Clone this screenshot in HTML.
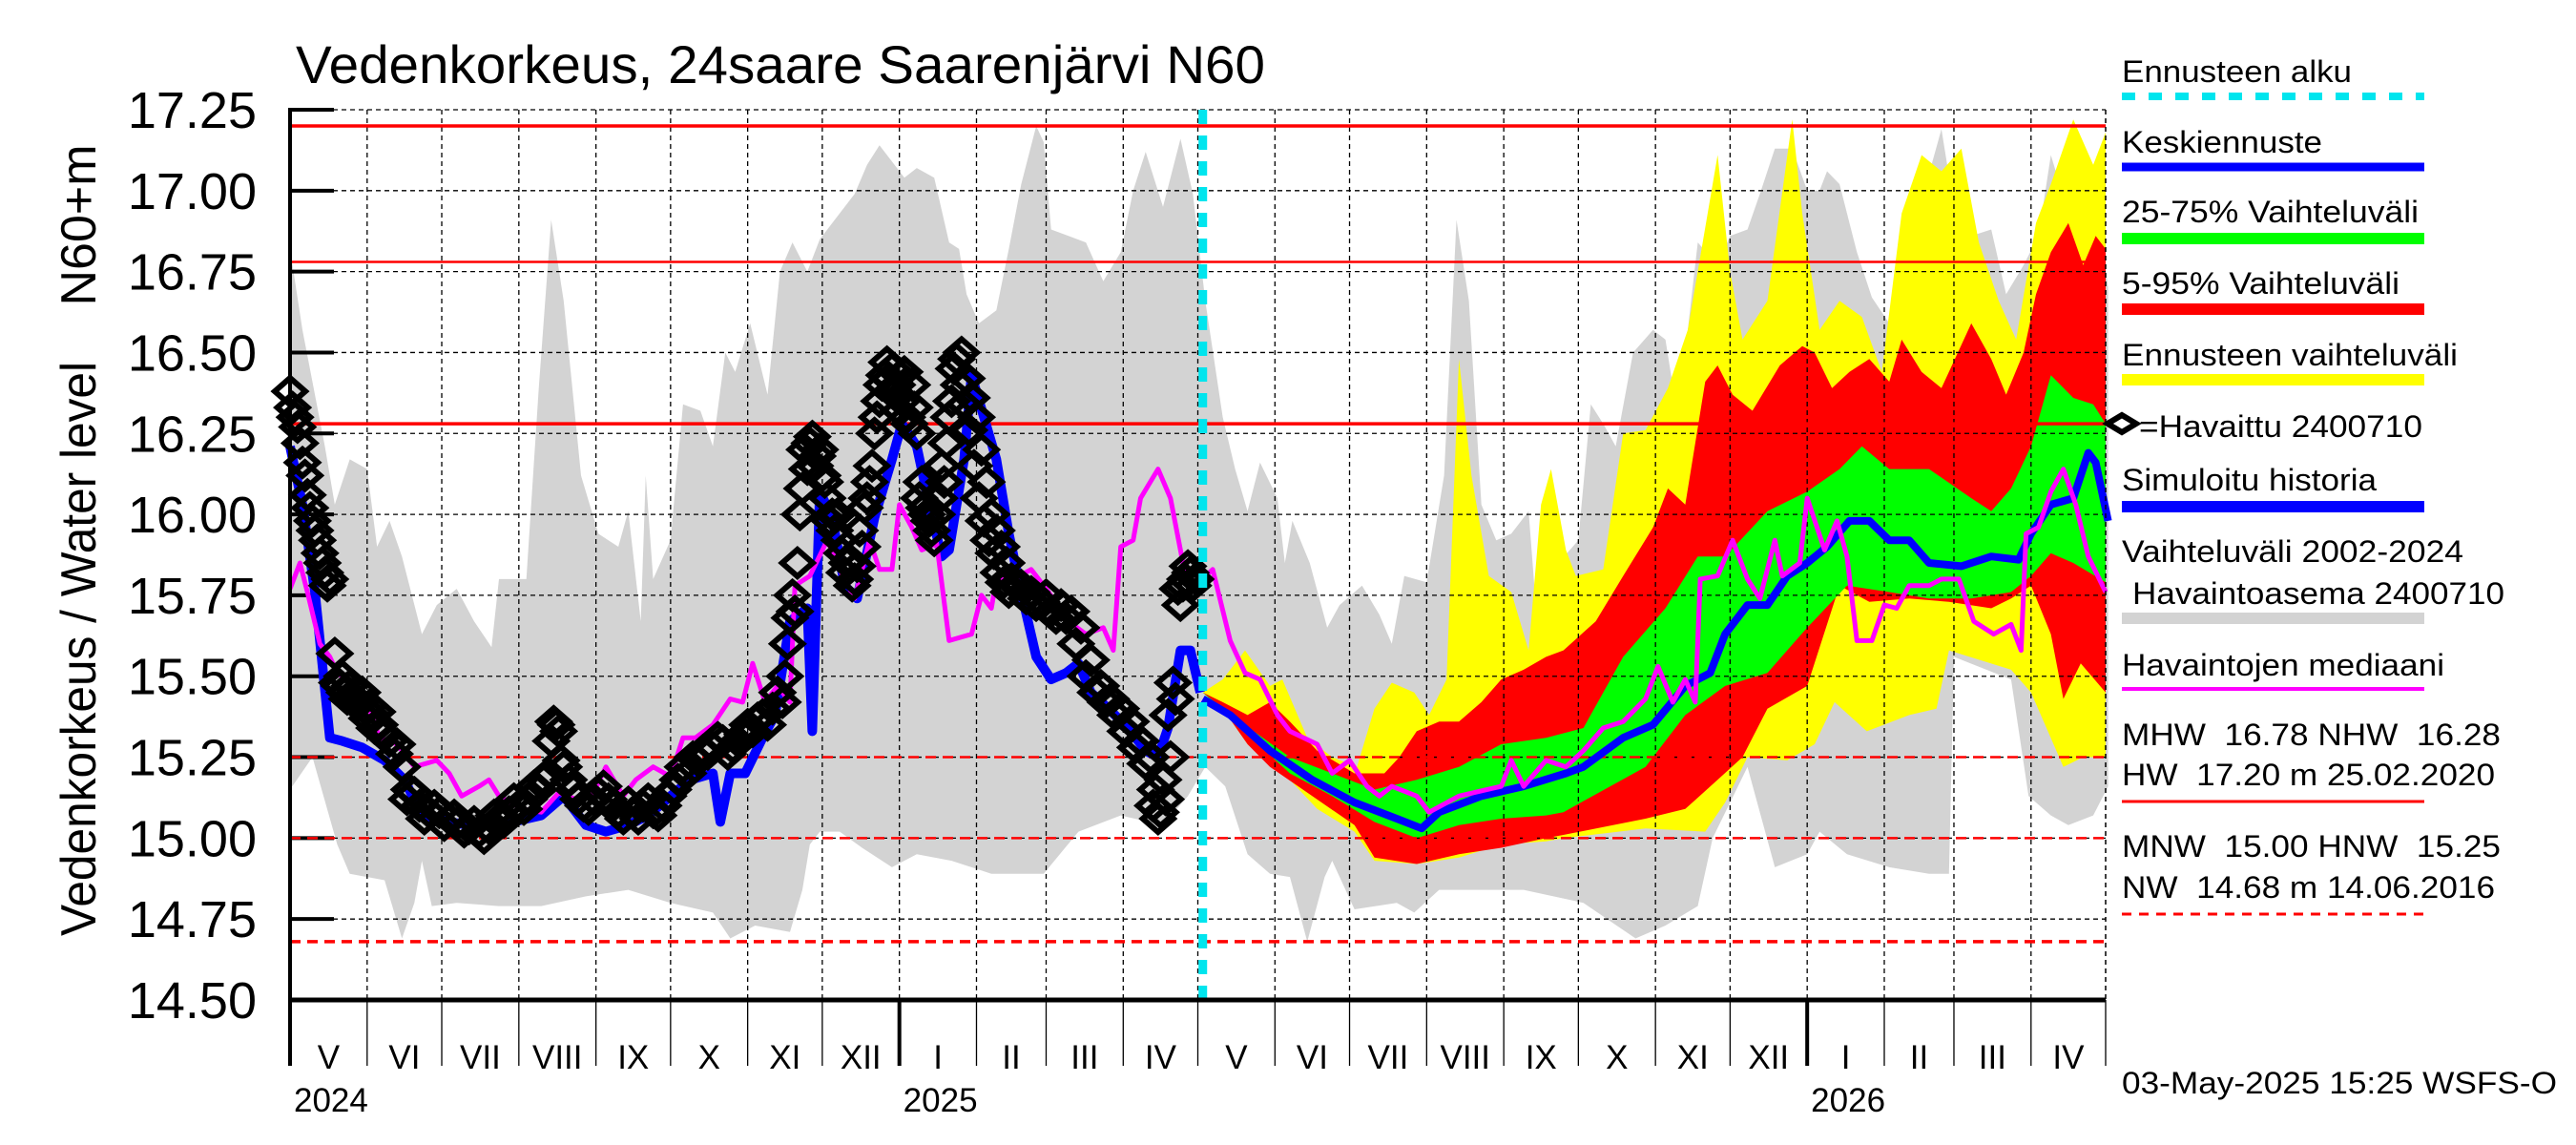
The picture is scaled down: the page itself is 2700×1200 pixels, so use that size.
<!DOCTYPE html>
<html><head><meta charset="utf-8"><title>Vedenkorkeus Saarenjärvi</title>
<style>
html,body{margin:0;padding:0;background:#fff;}
svg{display:block;font-family:"Liberation Sans",sans-serif;}
</style></head>
<body>
<svg id="chart" width="2700" height="1200" viewBox="0 0 2700 1200" xmlns="http://www.w3.org/2000/svg">
<rect x="0" y="0" width="2700" height="1200" fill="#fff"/>
<text x="310" y="87" font-size="56" textLength="1016" lengthAdjust="spacingAndGlyphs">Vedenkorkeus, 24saare Saarenjärvi N60</text>
<text transform="translate(100,236) rotate(-90)" text-anchor="middle" font-size="52">N60+m</text>
<text transform="translate(100,680) rotate(-90)" text-anchor="middle" font-size="52" textLength="602" lengthAdjust="spacingAndGlyphs">Vedenkorkeus / Water level</text>
<g id="plot"></g>
<g id="legend">
  <text x="2224" y="86" font-size="32" textLength="241" lengthAdjust="spacingAndGlyphs">Ennusteen alku</text>
  <line x1="2224" y1="101" x2="2541" y2="101" stroke="#00e5ee" stroke-width="8" stroke-dasharray="14,14"/>
  <text x="2224" y="160" font-size="32" textLength="210" lengthAdjust="spacingAndGlyphs">Keskiennuste</text>
  <line x1="2224" y1="175" x2="2541" y2="175" stroke="#0000ff" stroke-width="9"/>
  <text x="2224" y="233" font-size="32" textLength="311" lengthAdjust="spacingAndGlyphs">25-75% Vaihteluväli</text>
  <line x1="2224" y1="250" x2="2541" y2="250" stroke="#00ff00" stroke-width="12"/>
  <text x="2224" y="308" font-size="32" textLength="291" lengthAdjust="spacingAndGlyphs">5-95% Vaihteluväli</text>
  <line x1="2224" y1="324" x2="2541" y2="324" stroke="#ff0000" stroke-width="12"/>
  <text x="2224" y="383" font-size="32" textLength="352" lengthAdjust="spacingAndGlyphs">Ennusteen vaihteluväli</text>
  <line x1="2224" y1="398" x2="2541" y2="398" stroke="#ffff00" stroke-width="12"/>
  <polygon points="2209,444 2224,435 2239,444 2224,453" fill="none" stroke="#000" stroke-width="6"/>
  <text x="2242" y="458" font-size="32" textLength="297" lengthAdjust="spacingAndGlyphs">=Havaittu 2400710</text>
  <text x="2224" y="514" font-size="32" textLength="267" lengthAdjust="spacingAndGlyphs">Simuloitu historia</text>
  <line x1="2224" y1="531" x2="2541" y2="531" stroke="#0000ff" stroke-width="12"/>
  <text x="2224" y="589" font-size="32" textLength="358" lengthAdjust="spacingAndGlyphs">Vaihteluväli 2002-2024</text>
  <text x="2235" y="633" font-size="32" textLength="390" lengthAdjust="spacingAndGlyphs">Havaintoasema 2400710</text>
  <line x1="2224" y1="648" x2="2541" y2="648" stroke="#d3d3d3" stroke-width="12"/>
  <text x="2224" y="708" font-size="32" textLength="338" lengthAdjust="spacingAndGlyphs">Havaintojen mediaani</text>
  <line x1="2224" y1="722" x2="2541" y2="722" stroke="#ff00ff" stroke-width="4"/>
  <text x="2224" y="781" font-size="32" textLength="397" lengthAdjust="spacingAndGlyphs" xml:space="preserve">MHW  16.78 NHW  16.28</text>
  <text x="2224" y="823" font-size="32" textLength="391" lengthAdjust="spacingAndGlyphs" xml:space="preserve">HW  17.20 m 25.02.2020</text>
  <line x1="2224" y1="840" x2="2541" y2="840" stroke="#ff0000" stroke-width="3"/>
  <text x="2224" y="898" font-size="32" textLength="397" lengthAdjust="spacingAndGlyphs" xml:space="preserve">MNW  15.00 HNW  15.25</text>
  <text x="2224" y="941" font-size="32" textLength="391" lengthAdjust="spacingAndGlyphs" xml:space="preserve">NW  14.68 m 14.06.2016</text>
  <line x1="2224" y1="958" x2="2541" y2="958" stroke="#ff0000" stroke-width="3" stroke-dasharray="10,8"/>
  <text x="2224" y="1146" font-size="32" textLength="456" lengthAdjust="spacingAndGlyphs">03-May-2025 15:25 WSFS-O</text>
</g>
</svg>
<script>
// ---- data (days from 1 May 2024) ----
const histMaxDays = [0,5,14,18,24,31,35,40,45,53,59,67,74,81,84,95,100,105,110,117,124,132,136,141,143,146,153,158,165,170,175,179,185,192,197,202,208,213,221,227,232,237,242,247,252,259,265,269,272,277,284,289,294,300,303,306,313,320,327,334,339,344,351,358,363,368,375,380,385,390,397,400,403,410,417,422,431,438,443,448,457,464,469,474,479,485,491,498,502,510,518,523,528,533,540,548,553,558,566,574,579,586,591,597,604,610,615,618,623,630,636,643,649,656,664,669,676,684,690,697,703,708,715,721,726,731];
const histMax = [16.82,16.57,16.21,16.03,16.17,16.14,15.9,15.98,15.87,15.63,15.72,15.77,15.67,15.59,15.8,15.8,16.39,16.91,16.66,16.12,15.94,15.9,16.01,15.67,16.12,15.8,15.92,16.34,16.32,16.21,16.5,16.44,16.59,16.37,16.75,16.84,16.75,16.85,16.93,16.99,17.08,17.14,17.09,17.04,17.07,17.04,16.84,16.82,16.68,16.59,16.63,16.82,17.02,17.2,17.15,16.88,16.86,16.84,16.72,16.81,17.0,17.12,16.95,17.16,16.99,16.66,16.3,16.14,16.01,16.16,16.05,15.85,15.98,15.85,15.65,15.72,15.78,15.69,15.6,15.81,15.79,16.12,16.91,16.66,16.03,15.92,15.94,16.01,15.61,15.85,15.92,16.34,16.28,16.21,16.5,16.57,16.54,16.3,16.84,16.77,16.86,16.88,16.99,17.13,17.13,17.0,17.0,17.06,17.02,16.81,16.67,16.59,16.63,16.97,17.19,16.95,16.86,16.88,16.68,16.77,16.86,17.11,16.93,17.14,17.0,16.7];
const histMinDays = [0,9,19,24,38,45,50,53,57,67,84,101,119,136,153,170,177,187,201,206,209,213,221,230,242,252,266,282,303,317,334,351,361,368,376,385,394,402,409,416,419,428,445,452,462,479,496,520,541,553,566,572,586,597,610,615,626,643,659,667,669,692,699,708,715,725,731];
const histMin = [15.15,15.25,14.98,14.89,14.87,14.69,14.8,14.93,14.79,14.8,14.79,14.79,14.82,14.84,14.8,14.77,14.69,14.73,14.71,14.84,14.98,15.02,15.02,14.97,14.91,14.95,14.93,14.89,14.89,15.02,15.07,15.04,15.13,15.22,15.16,14.95,14.89,14.88,14.68,14.88,14.93,14.78,14.8,14.77,14.84,14.84,14.84,14.8,14.69,14.73,14.79,15.0,15.22,14.91,14.95,15.02,14.95,14.91,14.89,14.89,15.56,15.49,15.13,15.07,15.04,15.07,15.16];

const yelUpDays = [367,375,384,394,399,409,419,429,436,443,452,458,465,470,475,482,491,498,503,507,513,517,528,536,545,554,562,574,579,584,594,604,608,615,623,632,640,648,656,664,672,679,687,694,702,708,717,725,730];
const yelUp = [15.45,15.49,15.58,15.47,15.49,15.31,15.25,15.22,15.4,15.48,15.45,15.38,15.49,16.48,16.12,15.81,15.76,15.58,16.03,16.14,15.89,15.81,15.83,16.25,16.26,16.39,16.57,17.11,16.75,16.54,16.66,17.22,16.93,16.57,16.66,16.61,16.44,16.93,17.11,17.06,17.13,16.84,16.66,16.54,16.9,17.02,17.22,17.08,17.18];
const yelLoDays = [367,375,385,402,413,428,436,453,470,487,505,512,545,569,577,586,602,613,621,634,651,662,667,692,700,713,721,730];
const yelLo = [15.45,15.4,15.29,15.18,15.09,15.02,14.93,14.92,14.94,14.98,14.99,15.0,15.03,15.02,15.11,15.25,15.24,15.29,15.42,15.33,15.38,15.4,15.58,15.52,15.45,15.22,15.25,15.25];

const redUpDays = [367,375,385,394,402,413,428,440,446,453,462,470,479,487,496,505,512,525,536,548,554,561,569,574,580,588,599,608,613,620,627,635,643,648,656,664,676,684,690,697,702,708,715,721,726,730];
const redUp = [15.45,15.42,15.38,15.42,15.36,15.27,15.2,15.2,15.25,15.33,15.36,15.36,15.42,15.49,15.52,15.56,15.58,15.67,15.81,15.96,16.08,16.03,16.41,16.46,16.37,16.32,16.46,16.52,16.5,16.39,16.44,16.48,16.41,16.54,16.44,16.39,16.59,16.48,16.37,16.5,16.68,16.81,16.9,16.77,16.86,16.82];
const redLoDays = [367,375,385,394,411,428,436,453,470,487,505,512,545,561,574,584,594,610,623,635,651,667,684,692,700,708,713,720,730];
const redLo = [15.45,15.4,15.29,15.22,15.13,15.04,14.94,14.92,14.95,14.97,15.0,15.01,15.06,15.09,15.18,15.25,15.4,15.47,15.78,15.73,15.74,15.73,15.71,15.74,15.78,15.63,15.43,15.54,15.45];

const grnUpDays = [367,382,402,419,436,453,470,487,505,520,536,553,566,577,594,610,623,632,643,659,676,684,692,700,708,717,725,730];
const grnUp = [15.45,15.36,15.25,15.2,15.15,15.18,15.22,15.29,15.31,15.34,15.56,15.71,15.87,15.87,16.01,16.07,16.14,16.21,16.14,16.14,16.05,16.01,16.08,16.21,16.43,16.36,16.34,16.28];
const grnLoDays = [367,382,402,419,436,453,470,487,505,512,545,561,577,594,610,626,643,659,676,692,700,708,717,730];
const grnLo = [15.45,15.34,15.2,15.13,15.05,15.0,15.04,15.06,15.07,15.08,15.22,15.38,15.47,15.51,15.65,15.78,15.76,15.74,15.74,15.76,15.81,15.88,15.85,15.79];

const fcDays = [367,378,394,411,428,445,455,462,479,496,513,520,536,548,561,571,577,586,594,602,610,618,627,635,643,651,659,672,684,695,700,708,717,723,726,731];
const fcMedian = [15.43,15.38,15.27,15.18,15.11,15.06,15.03,15.08,15.13,15.16,15.2,15.22,15.31,15.35,15.47,15.51,15.63,15.72,15.72,15.81,15.85,15.9,15.98,15.98,15.92,15.92,15.85,15.84,15.87,15.86,15.94,16.03,16.05,16.19,16.16,15.98];

const simDays = [0,5,10,16,21,29,38,46,53,64,72,84,101,110,119,127,136,144,153,161,170,173,177,183,190,195,201,208,210,213,218,223,228,235,242,246,252,257,262,265,271,274,279,284,289,294,300,306,312,317,322,329,337,344,349,353,358,362,366];
const simHist = [16.21,16.03,15.76,15.31,15.3,15.28,15.24,15.18,15.07,15.05,15.04,15.04,15.07,15.13,15.04,15.02,15.04,15.07,15.13,15.18,15.2,15.05,15.2,15.2,15.31,15.38,15.67,15.71,15.33,16.07,15.99,15.78,15.74,15.99,16.17,16.28,16.21,16.03,15.87,15.89,16.17,16.43,16.3,16.17,15.94,15.76,15.56,15.49,15.51,15.54,15.45,15.4,15.34,15.27,15.25,15.34,15.58,15.58,15.45];

const medDays = [0,4,7,12,16,19,26,31,36,43,50,59,64,69,76,80,84,93,101,108,115,122,127,134,139,146,153,158,163,170,177,182,186,191,196,201,203,209,216,221,227,233,237,242,245,250,254,260,265,274,278,282,284,291,298,305,313,320,327,331,334,339,342,349,354,359,364,371,378,384,390,397,402,413,419,426,433,438,443,453,458,470,487,491,496,505,513,520,528,536,545,550,556,561,565,567,574,580,586,591,597,600,607,610,617,622,626,630,636,641,646,651,659,664,671,677,685,692,696,698,703,708,713,718,723,730];
const medVals = [15.77,15.85,15.76,15.6,15.56,15.51,15.47,15.42,15.31,15.29,15.22,15.24,15.2,15.13,15.16,15.18,15.13,15.09,15.08,15.14,15.12,15.14,15.22,15.13,15.18,15.22,15.19,15.31,15.31,15.35,15.43,15.42,15.54,15.42,15.47,15.42,15.78,15.81,15.92,15.83,15.74,15.92,15.83,15.83,16.03,15.96,15.89,15.91,15.61,15.63,15.75,15.71,15.8,15.8,15.83,15.76,15.67,15.63,15.65,15.58,15.9,15.92,16.05,16.14,16.05,15.85,15.78,15.83,15.61,15.51,15.49,15.38,15.33,15.29,15.2,15.24,15.16,15.13,15.16,15.13,15.08,15.13,15.16,15.24,15.16,15.24,15.22,15.27,15.34,15.36,15.43,15.53,15.42,15.49,15.42,15.8,15.81,15.92,15.8,15.74,15.92,15.81,15.85,16.05,15.89,15.98,15.87,15.61,15.61,15.72,15.71,15.78,15.78,15.8,15.8,15.67,15.63,15.66,15.58,15.94,15.96,16.07,16.14,16.03,15.87,15.76];

const obsDays = [0,2,4,6,8,10,12,14,16,18,20,22,25,28,30,33,36,40,45,48,52,56,60,64,68,72,76,80,84,88,92,96,100,104,106,108,110,114,118,122,126,130,134,138,142,146,150,154,158,162,166,170,174,178,182,186,190,194,198,200,202,205,207,209,212,215,218,221,224,227,230,232,234,236,238,240,242,244,246,248,250,252,254,256,258,260,262,265,268,270,272,274,276,278,280,282,284,286,288,290,294,298,302,306,310,314,318,322,326,330,334,338,342,346,348,350,352,354,356,358,360,362,364];
const obsVals = [16.38,16.3,16.22,16.12,16.02,15.95,15.88,15.82,15.8,15.57,15.47,15.45,15.44,15.42,15.4,15.38,15.35,15.3,15.22,15.15,15.1,15.08,15.08,15.06,15.05,15.03,15.02,15.03,15.06,15.08,15.1,15.12,15.15,15.2,15.36,15.33,15.22,15.15,15.1,15.12,15.16,15.1,15.06,15.08,15.1,15.08,15.1,15.15,15.22,15.25,15.27,15.28,15.3,15.28,15.32,15.33,15.38,15.4,15.42,15.6,15.75,16.0,16.2,16.22,16.18,16.1,16.0,15.92,15.85,15.8,15.9,16.05,16.15,16.3,16.4,16.47,16.45,16.4,16.35,16.3,16.4,16.25,16.1,16.0,15.95,16.0,16.15,16.3,16.48,16.5,16.42,16.36,16.3,16.2,16.1,16.0,15.95,15.9,15.85,15.8,15.78,15.76,15.73,15.7,15.72,15.7,15.65,15.55,15.47,15.43,15.4,15.36,15.3,15.25,15.15,15.08,15.12,15.25,15.43,15.72,15.8,15.82,15.8];
// additional repeated daily readings (noisy)
const obsDays2 = [1,3,5,7,9,11,13,15,19,21,23,24,27,29,31,32,34,35,38,42,43,47,50,54,58,62,66,70,74,78,82,86,90,94,98,102,105,107,109,112,116,120,124,128,132,136,140,144,148,152,156,160,164,168,172,176,180,184,188,192,196,199,201,203,204,206,208,210,211,213,214,216,217,219,220,222,223,225,226,228,229,231,233,235,237,239,241,243,245,247,249,251,253,255,257,259,261,263,264,266,267,269,271,273,275,277,279,281,283,285,287,289,292,296,300,304,308,312,316,320,324,328,332,336,340,344,347,349,351,353,355,357,359,361,363];
const obsVals2 = [16.33,16.27,16.16,16.06,15.98,15.92,15.85,15.78,15.48,15.5,15.43,15.47,15.41,15.45,15.37,15.41,15.34,15.39,15.32,15.26,15.29,15.12,15.14,15.06,15.1,15.04,15.07,15.02,15.05,15.0,15.07,15.05,15.12,15.09,15.16,15.18,15.3,15.35,15.24,15.18,15.12,15.09,15.14,15.12,15.08,15.11,15.06,15.12,15.07,15.13,15.18,15.2,15.24,15.26,15.31,15.26,15.3,15.35,15.37,15.35,15.45,15.5,15.68,15.7,15.85,16.08,16.14,16.24,16.15,16.2,16.12,16.05,15.98,15.95,16.0,15.88,15.82,15.86,15.78,15.84,15.95,16.02,16.1,16.25,16.35,16.43,16.42,16.38,16.32,16.44,16.28,16.33,16.05,16.02,15.98,15.92,16.05,16.1,16.22,16.35,16.45,16.4,16.34,16.26,16.15,16.05,15.98,15.92,15.88,15.82,15.79,15.76,15.78,15.74,15.72,15.75,15.68,15.68,15.6,15.5,15.45,15.42,15.38,15.33,15.28,15.23,15.1,15.06,15.18,15.38,15.48,15.77,15.78,15.84,15.78];

const yTicks = ["14.50","14.75","15.00","15.25","15.50","15.75","16.00","16.25","16.50","16.75","17.00","17.25"];
const monthLabels = ["V","VI","VII","VIII","IX","X","XI","XII","I","II","III","IV","V","VI","VII","VIII","IX","X","XI","XII","I","II","III","IV"];
const monthLengths = [31,30,31,31,30,31,30,31,31,28,31,30,31,30,31,31,30,31,30,31,31,28,31,30];
const yearLabels = ["2024","2025","2026"];
const yearMonthIndex = [0,8,20];
const forecastStartDay = 367;
const refLevels = [17.20,16.78,16.28,15.25,15.00,14.68];
const refNames = ["hw-line","mhw-line","nhw-line","hnw-line","mnw-line","nw-line"];

// ---- scales ----
const X0=304, X1=2207, Y0=115, Y1=1048, VMIN=14.5, VMAX=17.25, DAYS=730;
function xs(d){return X0+d*(X1-X0)/DAYS;}
function ys(v){return Y0+(VMAX-v)*(Y1-Y0)/(VMAX-VMIN);}
const NS="http://www.w3.org/2000/svg";
const plot=document.getElementById('plot');
function mk(tag,attrs,parent){const e=document.createElementNS(NS,tag);for(const k in attrs)e.setAttribute(k,attrs[k]);(parent||plot).appendChild(e);return e;}
function pts(days,vals){return days.map((d,i)=>xs(d).toFixed(1)+","+ys(vals[i]).toFixed(1));}
function band(dU,vU,dL,vL,color,name){
  const p=pts(dU,vU).concat(pts(dL,vL).reverse());
  const el=mk('polygon',{points:p.join(' '),fill:color,stroke:'none'});
  
  
}
function line(days,vals,color,w,name){
  const el=mk('polyline',{points:pts(days,vals).join(' '),fill:'none',stroke:color,'stroke-width':w,'stroke-linejoin':'round'});
  
  
}

band(histMaxDays,histMax,histMinDays,histMin,'#d3d3d3','hist-range-band');
band(yelUpDays,yelUp,yelLoDays,yelLo,'#ffff00','forecast-range-band');
band(redUpDays,redUp,redLoDays,redLo,'#ff0000','band-5-95');
band(grnUpDays,grnUp,grnLoDays,grnLo,'#00ff00','band-25-75');

// grid
let cum=0;
const bounds=[0];
monthLengths.forEach(m=>{cum+=m;bounds.push(cum);});
bounds.forEach((d,i)=>{
  if(i===0) return;
  const g=mk('line',{x1:xs(d),y1:Y0,x2:xs(d),y2:Y1,stroke:'#000','stroke-width':1.3,'stroke-dasharray':'5,4'});
  
  
});
yTicks.forEach(t=>{
  const v=parseFloat(t);
  const g=mk('line',{x1:X0,y1:ys(v),x2:X1,y2:ys(v),stroke:'#000','stroke-width':1.3,'stroke-dasharray':'5,4'});
  
  
  const tk=mk('line',{x1:X0,y1:ys(v),x2:X0+46,y2:ys(v),stroke:'#000','stroke-width':4});
  
  
  const tl=mk('text',{x:269,y:ys(v)+19,'text-anchor':'end','font-size':54});
  tl.textContent=t;
  
  
});

// reference lines
refLevels.forEach((v,i)=>{
  const dashed=v<15.5;
  const w=(i===1||i===3||i===4)?2.5:3.5;
  const a={x1:X0,y1:ys(v),x2:X1,y2:ys(v),stroke:'#ff0000','stroke-width':w};
  if(dashed)a['stroke-dasharray']='11,7';
  const el=mk('line',a);
  
  
});

line(simDays,simHist,'#0000ff',10,'simulated-history-line');
line(fcDays,fcMedian,'#0000ff',8,'median-forecast-line');
line(medDays,medVals,'#ff00ff',5,'observed-median-line');

// observed diamonds
function diamonds(days,vals){
  days.forEach((d,i)=>{
    const x=xs(d),y=ys(vals[i]);
    const el=mk('polygon',{points:`${x-16},${y} ${x},${y-14} ${x+16},${y} ${x},${y+14}`,fill:'none',stroke:'#000','stroke-width':6});
    
    
  });
}
diamonds(obsDays,obsVals);
diamonds(obsDays2,obsVals2);

// forecast start
const fs=mk('line',{x1:xs(forecastStartDay),y1:Y0,x2:xs(forecastStartDay),y2:Y1,stroke:'#00e5ee','stroke-width':9,'stroke-dasharray':'15,12'});



// axes
const ax1=mk('line',{x1:X0,y1:Y0-2,x2:X0,y2:Y1+2,stroke:'#000','stroke-width':4});


const ax2=mk('line',{x1:X0-2,y1:Y1,x2:X1,y2:Y1,stroke:'#000','stroke-width':5});


const rb=mk('line',{x1:X1,y1:Y0,x2:X1,y2:Y1,stroke:'#000','stroke-width':1.3,'stroke-dasharray':'5,4'});



// month ticks & labels
bounds.forEach((d,i)=>{
  const isYear=yearMonthIndex.includes(i);
  const t=mk('line',{x1:xs(d),y1:Y1,x2:xs(d),y2:1117,stroke:'#000','stroke-width':isYear?4:1.3});
  
  
  if(i<monthLabels.length){
    const lb=mk('text',{x:xs(d+monthLengths[i]/2),y:1120,'text-anchor':'middle','font-size':35});
    lb.textContent=monthLabels[i];
    
    
  }
});
yearLabels.forEach((y,i)=>{
  const lb=mk('text',{x:xs(bounds[yearMonthIndex[i]])+4,y:1165,'font-size':35});
  lb.textContent=y;
  
  
});
</script>
</body></html>
